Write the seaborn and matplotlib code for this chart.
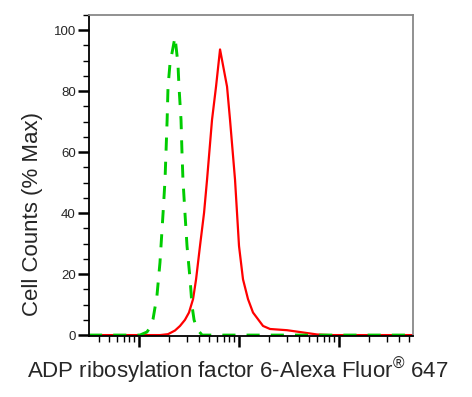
import numpy as np
import pandas as pd
import matplotlib
matplotlib.use("Agg")
import matplotlib.pyplot as plt
import seaborn as sns
from matplotlib.ticker import LogLocator, NullFormatter, MultipleLocator

# fluorescence intensity (log axis) and % max counts
stained_x = [31.6, 102, 162, 195, 229, 257, 288, 316, 347, 372, 407, 447, 479, 537,
             589, 646, 759, 813, 912, 955, 1000, 1096, 1230, 1380, 1738, 2042,
             3020, 4074, 6026, 8128, 54954]
stained_y = [0, 0, 0, 0.3, 1.5, 3.0, 5.0, 7.4, 11.8, 18.3, 29.2, 40.1, 51, 70.6,
             81.5, 93.7, 81.5, 70.6, 51, 40.1, 29.2, 18.3, 11.8, 7.4, 3.0, 2.0,
             1.6, 1.0, 0.2, 0, 0]

control_x = [31.6, 102, 120, 129, 138, 151, 162, 174, 182, 186, 191, 195, 204, 229,
             245, 251, 263, 269, 275, 288, 302, 324, 339, 355, 380, 427, 54954]
control_y = [0, 0, 1.0, 2.5, 5.2, 12.8, 23.8, 40.1, 51, 59.8, 70.6, 81.5, 89, 97.8,
             89, 81.5, 70.6, 59.8, 51, 40, 29.2, 18.3, 9.6, 5.0, 2.0, 0, 0]

stained = pd.DataFrame({"x": stained_x, "y": stained_y})
control = pd.DataFrame({"x": control_x, "y": control_y})

sns.set_style("ticks")
plt.rcParams["font.family"] = ["Liberation Sans", "DejaVu Sans"]
plt.rcParams["mathtext.fontset"] = "custom"
plt.rcParams["mathtext.rm"] = "Liberation Sans"
plt.rcParams["mathtext.it"] = "Liberation Sans"

fig = plt.figure(figsize=(4.72, 3.97), dpi=100)
ax = fig.add_axes([89/472, 1-336/397, (413-89)/472, (336-15)/397])

sns.lineplot(data=stained, x="x", y="y", ax=ax, color="#ff0000", lw=1.6,
             estimator=None, sort=False)
sns.lineplot(data=control, x="x", y="y", ax=ax, color="#00cc00", lw=2.1,
             estimator=None, sort=False, linestyle=(0, (4.5, 3.8)))

ax.set_xscale("log")
ax.set_xlim(31.6, 54954)
ax.set_ylim(-0.3, 105)
ax.xaxis.set_major_locator(LogLocator(base=10, numticks=10))
ax.xaxis.set_minor_locator(LogLocator(base=10, subs=np.arange(2, 10), numticks=20))
ax.xaxis.set_major_formatter(NullFormatter())
ax.xaxis.set_minor_formatter(NullFormatter())
ax.yaxis.set_major_locator(MultipleLocator(20))
ax.yaxis.set_minor_locator(MultipleLocator(5))
ax.set_xlabel("")
ax.set_ylabel("")

ax.tick_params(which="major", direction="out", length=8, width=1.8, color="black",
               labelsize=9.5, pad=1.5)
ax.tick_params(which="minor", direction="out", length=4, width=1.0, color="black")
for side in ["left", "bottom"]:
    ax.spines[side].set_color("black")
    ax.spines[side].set_linewidth(1.3)
for side in ["top", "right"]:
    ax.spines[side].set_visible(True)
    ax.spines[side].set_color("#888888")
    ax.spines[side].set_linewidth(1.3)

fig.text(237.5/472, 1-378/397, "ADP ribosylation factor 6-Alexa Fluor$^{\\mathrm{®}}$ 647",
         ha="center", va="baseline", fontsize=16)
fig.text(33/472, 1-214/397, "Cell Counts (% Max)", rotation=90,
         ha="center", va="center", fontsize=16)

fig.savefig("out.png", dpi=100)
